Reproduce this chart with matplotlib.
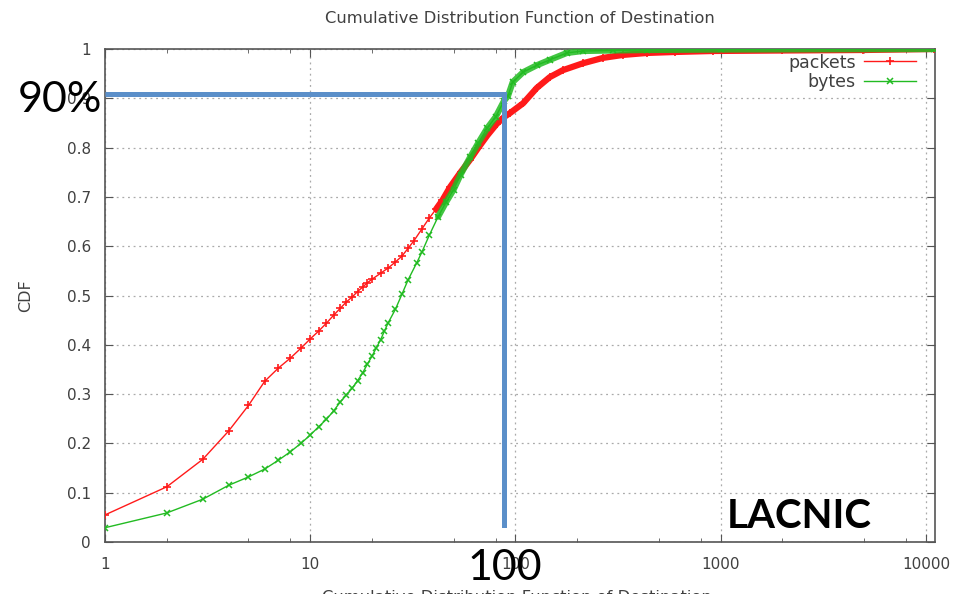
import numpy as np
from matplotlib import pyplot as plt
from matplotlib.ticker import FixedLocator, NullFormatter

# values (destinations -> CDF)
packets_x = [1, 2, 3, 4, 5, 6, 7, 8, 9, 10, 11, 12, 13, 14, 15, 16, 17, 18, 19, 20,
             22, 24, 26, 28, 30, 32, 35, 38, 41, 44, 48, 54, 60, 66, 73, 81, 88,
             94, 109, 127, 147, 170, 213, 267, 334, 437, 600, 920, 2000, 4930, 11000]
packets_y = [0.055, 0.112, 0.168, 0.225, 0.277, 0.326, 0.353, 0.373, 0.393, 0.412,
             0.428, 0.444, 0.460, 0.474, 0.487, 0.497, 0.508, 0.517, 0.526, 0.533,
             0.545, 0.556, 0.568, 0.580, 0.596, 0.611, 0.635, 0.657, 0.675, 0.693,
             0.720, 0.750, 0.775, 0.800, 0.825, 0.848, 0.862,
             0.870, 0.890, 0.921, 0.943, 0.957, 0.971, 0.982, 0.988, 0.992, 0.994,
             0.996, 0.997, 0.998, 1.0]

bytes_x = [1, 2, 3, 4, 5, 6, 7, 8, 9, 10, 11, 12, 13, 14, 15, 16, 17, 18, 19, 20,
           21, 22, 23, 24, 26, 28, 30, 33, 35, 38, 42, 46, 50, 54, 60, 66, 73, 80,
           88, 92, 97, 109, 127, 147, 178, 213, 298, 437, 1000, 11000]
bytes_y = [0.029, 0.059, 0.087, 0.115, 0.132, 0.148, 0.166, 0.183, 0.200, 0.217,
           0.234, 0.249, 0.266, 0.284, 0.298, 0.312, 0.327, 0.343, 0.361, 0.377,
           0.394, 0.410, 0.428, 0.445, 0.472, 0.503, 0.532, 0.566, 0.588, 0.622,
           0.660, 0.690, 0.715, 0.745, 0.780, 0.810, 0.840, 0.862,
           0.895, 0.905, 0.933, 0.953, 0.967, 0.978, 0.992, 0.996, 0.997, 0.998,
           0.999, 1.0]

x_ticks = [1, 10, 100, 1000, 10000]
y_ticks = [0, 0.1, 0.2, 0.3, 0.4, 0.5, 0.6, 0.7, 0.8, 0.9, 1]

# the hand drawn 90% / 100 guide
guide_x = 88
guide_y = 0.909
guide_bottom = 0.034

txt_color = '#404040'
red = '#ff1a1a'
green = '#22bb22'
blue = '#5b8fc9'

plt.rcParams['font.family'] = ['DejaVu Sans']

fig = plt.figure(figsize=(9.58, 5.94), dpi=100)
ax = fig.add_axes([0.1096, 0.0875, 0.8664, 0.83])

px = np.array(packets_x)
py = np.array(packets_y)
bx = np.array(bytes_x)
by = np.array(bytes_y)

ax.plot(px, py, color=red, lw=1, marker='+', ms=6, mew=1.2, label='packets', zorder=3)
ax.plot(bx, by, color=green, lw=1, marker='x', ms=5, mew=1.1, label='bytes', zorder=4)
# dense part of the sample draws as a thick band in the original
m = px >= 40
ax.plot(px[m], py[m], color=red, lw=4.5, solid_capstyle='round', zorder=3)
m = bx >= 40
ax.plot(bx[m], by[m], color=green, lw=4.5, alpha=0.85, solid_capstyle='round', zorder=4)

ax.set_xscale('log')
ax.set_xlim(1, 11070)
ax.set_ylim(0, 1)
ax.xaxis.set_major_locator(FixedLocator(x_ticks))
ax.set_xticklabels([str(t) for t in x_ticks])
minor = [m * d for d in [1, 10, 100, 1000] for m in (2, 5, 8)]
ax.xaxis.set_minor_locator(FixedLocator(minor))
ax.xaxis.set_minor_formatter(NullFormatter())
ax.set_yticks(y_ticks)
ax.set_yticklabels(['0', '0.1', '0.2', '0.3', '0.4', '0.5', '0.6', '0.7', '0.8', '0.9', '1'])

ax.tick_params(which='both', direction='in', top=True, right=True,
               colors='#555555', labelcolor=txt_color, labelsize=11)
ax.tick_params(axis='y', which='major', length=6, pad=10)
ax.tick_params(axis='x', which='major', length=6, pad=11)
ax.tick_params(which='minor', length=3)
ax.grid(True, which='major', linestyle=(0, (1.5, 3)), color='#aaaaaa', lw=0.9)
for s in ax.spines.values():
    s.set_color('#555555')
    s.set_linewidth(1.2)

ax.set_title('Cumulative Distribution Function of Destination', fontsize=11.8,
             color=txt_color, pad=19)
ax.set_ylabel('CDF', fontsize=11.5, color=txt_color, labelpad=24)
fig.text(0.54, -0.006, 'Cumulative Distribution Function of Destination',
         ha='center', va='center', fontsize=11.8, color=txt_color)

leg = ax.legend(loc='upper right', bbox_to_anchor=(0.99, 1.012), frameon=False,
                markerfirst=False, fontsize=12.5, handlelength=3.0,
                labelspacing=0.1, borderaxespad=0.2, handletextpad=0.5)
for t in leg.get_texts():
    t.set_color(txt_color)

# overlay annotations
ax.plot([1, guide_x], [guide_y, guide_y], color=blue, lw=3.6, zorder=6,
        solid_capstyle='butt', clip_on=False)
ax.plot([guide_x, guide_x], [guide_y, guide_bottom], color=blue, lw=3.6, zorder=6,
        solid_capstyle='projecting', clip_on=False)

fig.text(0.063, 0.831, '90%', ha='center', va='center', fontsize=31,
         family='Lato', color='black', zorder=10)
fig.text(0.527, 0.043, '100', ha='center', va='center', fontsize=31,
         family='Lato', color='black', zorder=10)
fig.text(0.834, 0.13, 'LACNIC', ha='center', va='center', fontsize=29,
         family='Lato', weight='bold', color='black', zorder=10)

fig.savefig('out.png', dpi=100)
